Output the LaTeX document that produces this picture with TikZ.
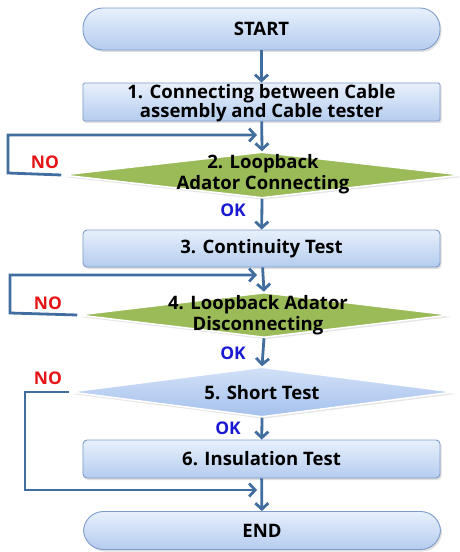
\documentclass[tikz,border=0pt]{standalone}
\usepackage{fontspec}
\setmainfont{Open Sans}
\usetikzlibrary{shapes.geometric,arrows.meta,shadows}
\definecolor{arr}{RGB}{65,110,158}
\definecolor{bord}{RGB}{125,155,200}
\definecolor{boxtop}{RGB}{232,240,252}
\definecolor{boxbot}{RGB}{180,204,238}
\definecolor{dtop}{RGB}{210,225,248}
\definecolor{dbot}{RGB}{165,193,236}
\definecolor{dgreen}{RGB}{155,187,89}
\definecolor{nored}{RGB}{230,20,20}
\definecolor{okblue}{RGB}{25,25,210}
\begin{document}
\begin{tikzpicture}[x=1bp,y=-1bp,
  proc/.style={rectangle, rounded corners=4bp, draw=bord, line width=0.9bp,
    top color=boxtop, bottom color=boxbot, minimum width=357bp, inner sep=0pt,
    font=\bfseries\fontsize{18.6}{19}\selectfont, align=center,
    drop shadow={opacity=0.25, shadow xshift=1.5bp, shadow yshift=-2bp}},
  term/.style={proc, rounded corners=20bp},
  dia/.style={diamond, draw=white, line width=1.5bp, inner sep=0pt,
    drop shadow={opacity=0.2, shadow xshift=1.5bp, shadow yshift=-2bp}},
  dtext/.style={font=\bfseries\fontsize{18.6}{20.5}\selectfont, align=center, inner sep=0pt},
  flow/.style={draw=arr, line width=2.8bp, line join=miter, -{Straight Barb[length=6bp,width=13bp]}},
  nolab/.style={text=nored, font=\bfseries\fontsize{17.5}{17.5}\selectfont, inner sep=0pt},
  oklab/.style={text=okblue, font=\bfseries\fontsize{17.5}{17.5}\selectfont, inner sep=0pt}
]
\useasboundingbox (0,0) rectangle (460,552);
\node[term, minimum height=42bp] (start) at (261.5,29) {START};
\node[proc, minimum height=38bp, rounded corners=1.5bp] (b1) at (261.5,102) {};
\node[dtext, font=\bfseries\fontsize{18.6}{19}\selectfont] (t1) at (261.5,103) {1. Connecting between Cable\\assembly and Cable tester};
\node[dia, fill=dgreen, minimum width=400bp, minimum height=46bp] (d2) at (262,175) {};
\node[dtext] (t2) at (263,174) {2. Loopback\\Adator Connecting};
\node[proc, minimum height=37bp] (b3) at (261.5,248.5) {3. Continuity Test};
\node[dia, fill=dgreen, minimum width=372bp, minimum height=45bp] (d4) at (264,315) {};
\node[dtext] (t4) at (258,315) {4. Loopback Adator\\Disconnecting};
\node[dia, top color=dtop, bottom color=dbot, minimum width=384bp, minimum height=50bp] (d5) at (262,392) {};
\node[dtext] (t5) at (262,393) {5. Short Test};
\node[proc, minimum height=38bp] (b6) at (261.5,459) {6. Insulation Test};
\node[term, minimum height=38bp] (end) at (262,530.5) {END};

\coordinate (c2a) at (8,173);
\coordinate (c2b) at (8,135);
\coordinate (m2) at (257,135);
\coordinate (c4a) at (10,313);
\coordinate (c4b) at (10,275);
\coordinate (m4) at (257,275);
\coordinate (c5a) at (25,392);
\coordinate (c5b) at (25,490);
\coordinate (m5) at (257,490);

\draw[flow] (start) -- (b1);
\draw[flow] (b1) -- (d2.north);
\draw[flow] (d2.south) -- (b3);
\draw[flow] (b3) -- (d4.north);
\draw[flow] (d4.south) -- (d5.north);
\draw[flow] (d5.south) -- (b6);
\draw[flow] (b6) -- (end);

\draw[flow] (d2.west) -- (c2a) -- (c2b) -- (m2);
\draw[flow] (d4.west) -- (c4a) -- (c4b) -- (m4);
\draw[flow] (d5.west) -- (c5a) -- (c5b) -- (m5);

\node[nolab] (no2) at (45,162) {NO};
\node[nolab] (no4) at (48,303) {NO};
\node[nolab] (no5) at (48,378) {NO};
\node[oklab] (ok2) at (233,210) {OK};
\node[oklab] (ok4) at (233,353) {OK};
\node[oklab] (ok5) at (228,428) {OK};
\end{tikzpicture}
\end{document}
